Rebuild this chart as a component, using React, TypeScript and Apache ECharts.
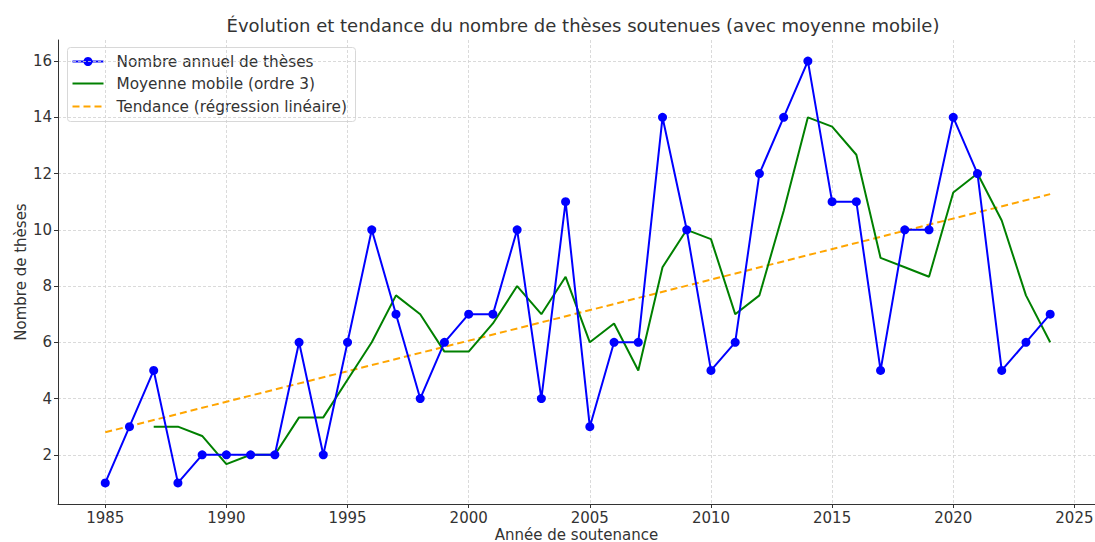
import React, { useEffect, useRef } from "react";
import * as echarts from "echarts";

const years = [1985, 1986, 1987, 1988, 1989, 1990, 1991, 1992, 1993, 1994, 1995, 1996, 1997, 1998, 1999, 2000, 2001, 2002, 2003, 2004, 2005, 2006, 2007, 2008, 2009, 2010, 2011, 2012, 2013, 2014, 2015, 2016, 2017, 2018, 2019, 2020, 2021, 2022, 2023, 2024];
const theses = [1, 3, 5, 1, 2, 2, 2, 2, 6, 2, 6, 10, 7, 4, 6, 7, 7, 10, 4, 11, 3, 6, 6, 14, 10, 5, 6, 12, 14, 16, 11, 11, 5, 10, 10, 14, 12, 5, 6, 7];
const maYears = years.slice(2);
const movingAvg = [3, 3, 2.67, 1.67, 2, 2, 3.33, 3.33, 4.67, 6, 7.67, 7, 5.67, 5.67, 6.67, 8, 7, 8.33, 6, 6.67, 5, 8.67, 10, 9.67, 7, 7.67, 10.67, 14, 13.67, 12.67, 9, 8.67, 8.33, 11.33, 12, 10.33, 7.67, 6];
const trendYears = [1985, 2024];
const trendValues = [2.8, 11.27];
const xTicks = [1985, 1990, 1995, 2000, 2005, 2010, 2015, 2020, 2025];
const yTicks = [2, 4, 6, 8, 10, 12, 14, 16];

const FONT = "DejaVu Sans";
const TXT = "#333";

export default function App() {
  const ref = useRef<HTMLDivElement>(null);
  useEffect(() => {
    document.body.style.margin = "0";
    const chart = echarts.init(ref.current!, null, { renderer: "svg" });
    const splitLine = { show: true, lineStyle: { color: "#d0d0d0", width: 0.8, type: [3, 2] } };
    chart.setOption({
      animation: false,
      backgroundColor: "#fff",
      textStyle: { fontFamily: FONT },
      title: {
        text: "Évolution et tendance du nombre de thèses soutenues (avec moyenne mobile)",
        left: 578, top: 11, textAlign: "center",
        textStyle: { fontFamily: FONT, fontSize: 18, fontWeight: "normal", color: TXT },
      },
      grid: { left: 58, right: 0, top: 40, bottom: 38, containLabel: false, outerBoundsMode: "none" },
      xAxis: {
        type: "value", min: 1983.05, max: 2025.85,
        name: "Année de soutenance", nameLocation: "middle", nameGap: 23, nameMoveOverlap: false,
        nameTextStyle: { fontFamily: FONT, fontSize: 15, color: TXT },
        axisLine: { show: true, onZero: false, lineStyle: { color: "#333", width: 1 } },
        axisTick: { show: true, length: 4, customValues: xTicks, lineStyle: { color: "#333" } },
        axisLabel: { customValues: xTicks, formatter: (v: number) => String(v), fontFamily: FONT, fontSize: 15, color: TXT, margin: 6 },
        splitLine,
      },
      yAxis: {
        type: "value", min: 0.25, max: 16.75,
        name: "Nombre de thèses", nameLocation: "middle", nameGap: 30, nameMoveOverlap: false,
        nameTextStyle: { fontFamily: FONT, fontSize: 15, color: TXT },
        axisLine: { show: true, onZero: false, lineStyle: { color: "#333", width: 1 } },
        axisTick: { show: true, length: 4, customValues: yTicks, lineStyle: { color: "#333" } },
        axisLabel: { customValues: yTicks, formatter: (v: number) => String(v), fontFamily: FONT, fontSize: 15, color: TXT, margin: 6 },
        splitLine,
      },
      series: [
        {
          name: "Nombre annuel de thèses", type: "line",
          data: years.map((y, i) => [y, theses[i]]),
          symbol: "circle", symbolSize: 9,
          itemStyle: { color: "#0000ff" },
          lineStyle: { color: "#0000ff", width: 2 },
          z: 3,
        },
        {
          name: "Moyenne mobile (ordre 3)", type: "line",
          data: maYears.map((y, i) => [y, movingAvg[i]]),
          showSymbol: false, symbol: "none",
          lineStyle: { color: "#008000", width: 2 },
          z: 2,
        },
        {
          name: "Tendance (régression linéaire)", type: "line",
          data: trendYears.map((y, i) => [y, trendValues[i]]),
          showSymbol: false, symbol: "none",
          lineStyle: { color: "#ffa500", width: 2, type: [7, 4] },
          z: 1,
        },
      ],
      graphic: [
        {
          type: "group", left: 67, top: 47, z: 100,
          children: [
            { type: "rect", shape: { x: 0, y: 0, width: 288, height: 74, r: 3 }, style: { fill: "rgba(255,255,255,0.85)", stroke: "#d8d8d8", lineWidth: 1 } },
            { type: "rect", shape: { x: 5, y: 13, width: 31, height: 2 }, style: { fill: "#0000ff" } },
            { type: "circle", shape: { cx: 20.5, cy: 14, r: 4.5 }, style: { fill: "#0000ff" } },
            { type: "text", x: 49, y: 14, style: { text: "Nombre annuel de thèses", fontFamily: FONT, fontSize: 15.3, fill: TXT, verticalAlign: "middle" } },
            { type: "rect", shape: { x: 5, y: 35, width: 31, height: 2 }, style: { fill: "#008000" } },
            { type: "text", x: 49, y: 36, style: { text: "Moyenne mobile (ordre 3)", fontFamily: FONT, fontSize: 15.3, fill: TXT, verticalAlign: "middle" } },
            { type: "line", shape: { x1: 5, y1: 59, x2: 36, y2: 59 }, style: { stroke: "#ffa500", lineWidth: 2, lineDash: [7, 4] } },
            { type: "text", x: 49, y: 59, style: { text: "Tendance (régression linéaire)", fontFamily: FONT, fontSize: 15.3, fill: TXT, verticalAlign: "middle" } },
          ],
        },
      ],
    });
    return () => chart.dispose();
  }, []);
  return <div ref={ref} style={{ width: 1095, height: 542 }} />;
}
